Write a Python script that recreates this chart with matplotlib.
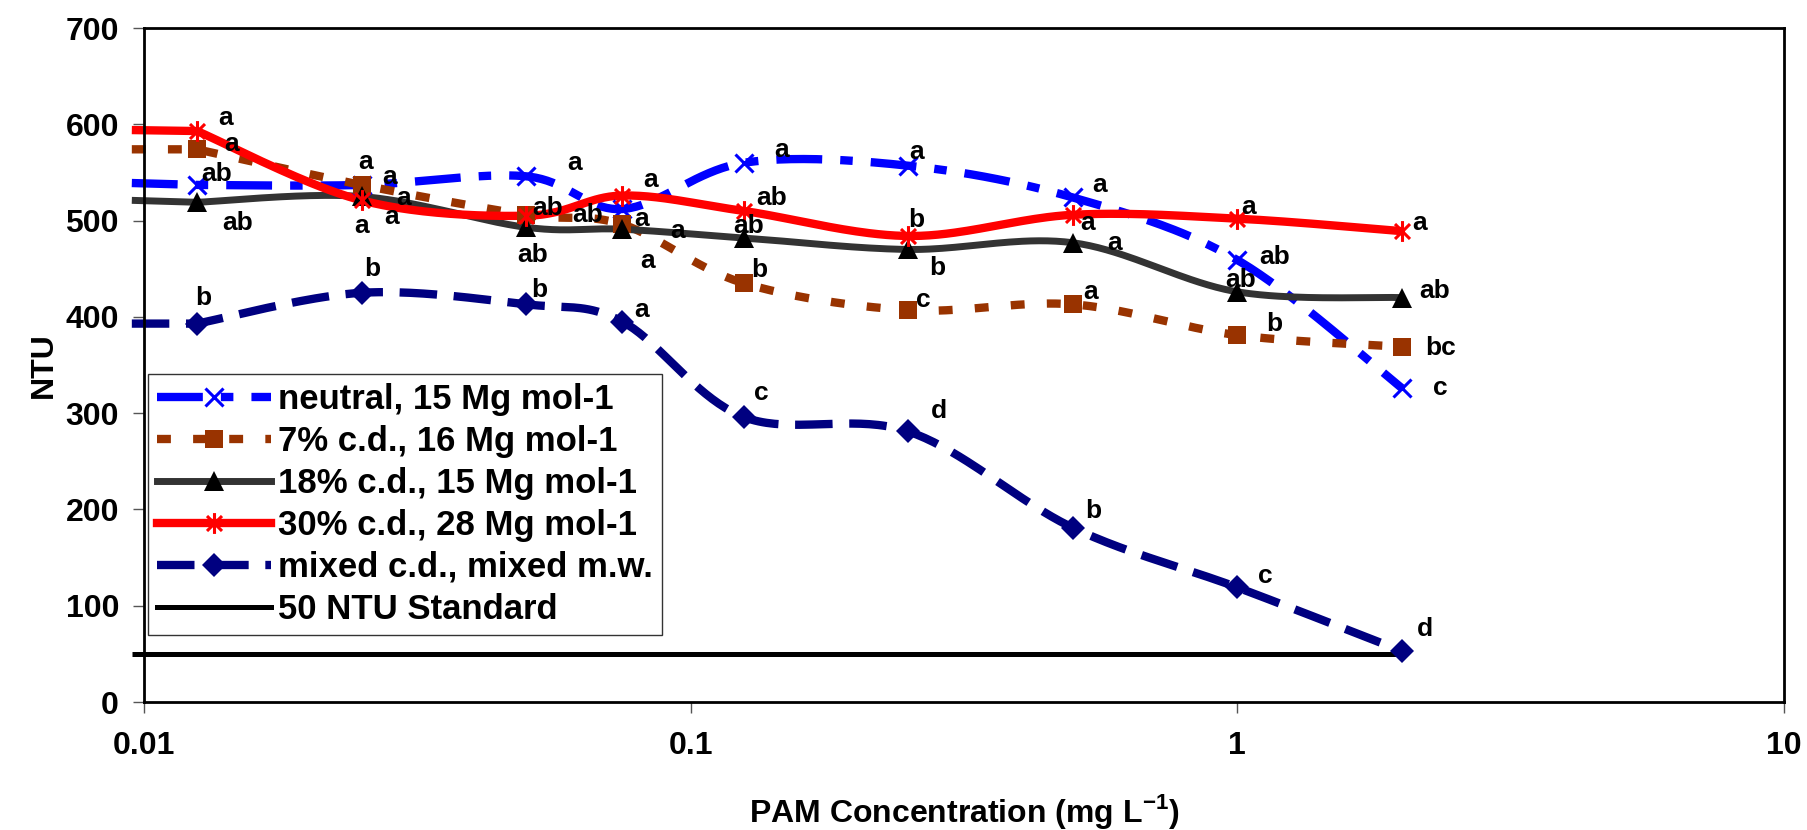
import numpy as np
import matplotlib
matplotlib.use("Agg")
import matplotlib.pyplot as plt
from matplotlib.lines import Line2D
from matplotlib.path import Path
from matplotlib.ticker import NullLocator

plt.rcParams['font.family'] = ['Liberation Sans', 'DejaVu Sans']
plt.rcParams['font.weight'] = 'bold'
plt.rcParams['mathtext.fontset'] = 'custom'
plt.rcParams['mathtext.rm'] = 'Liberation Sans:bold'
plt.rcParams['mathtext.bf'] = 'Liberation Sans:bold'
plt.rcParams['lines.scale_dashes'] = False

# PAM dose (mg/L); first value is where the curves start at the left edge (no marker)
pam = [0.0095, 0.0125, 0.025, 0.05, 0.075, 0.125, 0.25, 0.5, 1, 2]

neutral = [539, 537, 537, 546, 512, 560, 557, 524, 459, 326]
cd7 = [574, 574, 537, 506, 496, 435, 407, 413, 381, 369]
cd18 = [521, 519, 525, 493, 491, 482, 470, 477, 426, 420]
cd30 = [594, 593, 521, 505, 526, 510, 484, 506, 502, 489]
mixed = [393, 393, 425, 413, 395, 296, 281, 181, 119, 53]

std_x = [0.0095, 2]
std_y = [50, 50]

# significance letters at each marked dose
neutral_sig = ['ab', 'a', 'a', 'a', 'a', 'a', 'a', 'ab', 'c']
cd7_sig = ['a', 'a', 'ab', 'a', 'b', 'c', 'a', 'b', 'bc']
cd18_sig = ['ab', 'a', 'ab', 'a', 'ab', 'b', 'a', 'ab', 'ab']
cd30_sig = ['a', 'a', 'ab', 'a', 'ab', 'b', 'a', 'a', 'a']
mixed_sig = ['b', 'b', 'b', 'a', 'c', 'd', 'b', 'c', 'd']

names = ['neutral, 15 Mg mol-1', '7% c.d., 16 Mg mol-1', '18% c.d., 15 Mg mol-1',
         '30% c.d., 28 Mg mol-1', 'mixed c.d., mixed m.w.', '50 NTU Standard']

x_ticks = [0.01, 0.1, 1, 10]
x_ticklabels = ['0.01', '0.1', '1', '10']


def smooth(xs, ys, n=40):
    # Bezier smoothing in (log x, y), same idea as a spreadsheet "smoothed line"
    u = np.log10(np.asarray(xs, float))
    v = np.asarray(ys, float)
    P = np.column_stack([u, v])
    P = np.vstack([P[0], P, P[-1]])
    out = []
    t = np.linspace(0, 1, n)[:, None]
    for i in range(1, len(P) - 2):
        p0, p1, p2, p3 = P[i - 1], P[i], P[i + 1], P[i + 2]
        c1 = p1 + (p2 - p0) / 6.0
        c2 = p2 - (p3 - p1) / 6.0
        seg = ((1 - t) ** 3) * p1 + 3 * ((1 - t) ** 2) * t * c1 + 3 * (1 - t) * t ** 2 * c2 + t ** 3 * p2
        out.append(seg if i == 1 else seg[1:])
    out = np.vstack(out)
    return 10 ** out[:, 0], out[:, 1]


# asterisk: vertical bar plus an x
star = Path([(0, -1), (0, 1), (-0.72, -0.72), (0.72, 0.72), (-0.72, 0.72), (0.72, -0.72)],
            [Path.MOVETO, Path.LINETO, Path.MOVETO, Path.LINETO, Path.MOVETO, Path.LINETO])

styles = [
    dict(color='#0000FF', lw=6, dashes=(33, 13, 9, 13), marker='x', ms=13, mew=2.2, mfc='#0000FF'),
    dict(color='#993300', lw=6, dashes=(10, 16), marker='s', ms=13, mew=0, mfc='#993300'),
    dict(color='#333333', lw=5, dashes=None, marker='^', ms=14, mew=0, mfc='black'),
    dict(color='#FF0000', lw=6, dashes=None, marker=star, ms=15, mew=2.2, mfc='#FF0000'),
    dict(color='#000080', lw=6, dashes=(27, 12), marker='D', ms=12, mew=0, mfc='#000080'),
]
marker_edge = ['#0000FF', '#993300', 'black', '#FF0000', '#000080']

# label offsets in pixels (dx right, dy down) from each marker
offsets = [
    [(20, -11), (4, -23), (48, -13), (19, 10), (38, -13), (8, -14), (27, -12), (37, -3), (38, 0)],
    [(35, -5), (28, -8), (62, 0), (25, 37), (16, -13), (15, -10), (18, -12), (37, -11), (39, 1)],
    [(41, 21), (42, 1), (7, 28), (55, 2), (5, -12), (29, 19), (42, 0), (3, -12), (33, -7)],
    [(29, -13), (30, 17), (22, -8), (28, -16), (28, -13), (8, -16), (15, 8), (11, -12), (18, -8)],
    [(6, -26), (11, -24), (13, -14), (19, -12), (18, -24), (31, -20), (21, -17), (28, -11), (23, -22)],
]

series = [neutral, cd7, cd18, cd30, mixed]
sigs = [neutral_sig, cd7_sig, cd18_sig, cd30_sig, mixed_sig]

fig = plt.figure(figsize=(18.07, 8.3), dpi=100)
ax = fig.add_axes([144 / 1807, 1 - 702 / 830, 1640 / 1807, 674 / 830])

for ys, st, ec in zip(series, styles, marker_edge):
    # smooth between the marked doses, straight lead-in from the left edge
    sx, sy = smooth(pam[1:], ys[1:])
    sx = np.concatenate([[pam[0]], sx])
    sy = np.concatenate([[ys[0]], sy])
    line, = ax.plot(sx, sy, color=st['color'], lw=st['lw'], solid_capstyle='butt',
                    dash_capstyle='butt', clip_on=False, zorder=2)
    if st['dashes']:
        line.set_dashes(st['dashes'])
    ax.plot(pam[1:], ys[1:], ls='none', marker=st['marker'], ms=st['ms'],
            mfc=st['mfc'], mec=ec, mew=st['mew'], zorder=3)

ax.plot(std_x, std_y, color='black', lw=3.6, solid_capstyle='butt', clip_on=False, zorder=2)

for ys, sig, offs in zip(series, sigs, offsets):
    for xv, yv, s, (dx, dy) in zip(pam[1:], ys[1:], sig, offs):
        ax.annotate(s, (xv, yv), xytext=(dx * 0.72, -dy * 0.72), textcoords='offset points',
                    ha='center', va='center', fontsize=19, fontweight='bold', zorder=5)
# second letter sitting under the 0.025 cluster
ax.annotate('a', (pam[2], cd30[2]), xytext=(0, -26 * 0.72), textcoords='offset points',
            ha='center', va='center', fontsize=19, fontweight='bold', zorder=5)

ax.set_xscale('log')
ax.set_xlim(0.01, 10)
ax.set_ylim(0, 700)
ax.set_xticks(x_ticks)
ax.set_xticklabels(x_ticklabels)
ax.xaxis.set_minor_locator(NullLocator())
ax.set_yticks(range(0, 701, 100))
ax.tick_params(axis='both', direction='out', length=8, width=1, color='#555555', labelsize=23)
ax.tick_params(axis='x', pad=13)
ax.tick_params(axis='y', pad=10)
for sp in ax.spines.values():
    sp.set_linewidth(2)
    sp.set_color('black')

ax.set_xlabel('PAM Concentration (mg L$^{-1}$)', fontsize=23, fontweight='bold', labelpad=22)
ax.set_ylabel('NTU', fontsize=23, fontweight='bold', labelpad=5)

handles = []
for st, ec, nm in zip(styles, marker_edge, names[:5]):
    h = Line2D([], [], color=st['color'], lw=st['lw'], marker=st['marker'], ms=st['ms'],
               mfc=st['mfc'], mec=ec, mew=st['mew'], label=nm)
    if st['dashes']:
        h.set_dashes(st['dashes'])
    handles.append(h)
handles.append(Line2D([], [], color='black', lw=3.6, label=names[5]))

leg = ax.legend(handles=handles, loc='upper left', bbox_to_anchor=(0.0024, 0.4866),
                fontsize=25, frameon=True, fancybox=False, borderaxespad=0,
                handlelength=3.3, handletextpad=0.2, borderpad=0.25, labelspacing=0.26,
                numpoints=1)
leg.get_frame().set_edgecolor('black')
leg.get_frame().set_linewidth(1)
leg.set_zorder(6)

fig.savefig('out.png', dpi=100, facecolor='white')
